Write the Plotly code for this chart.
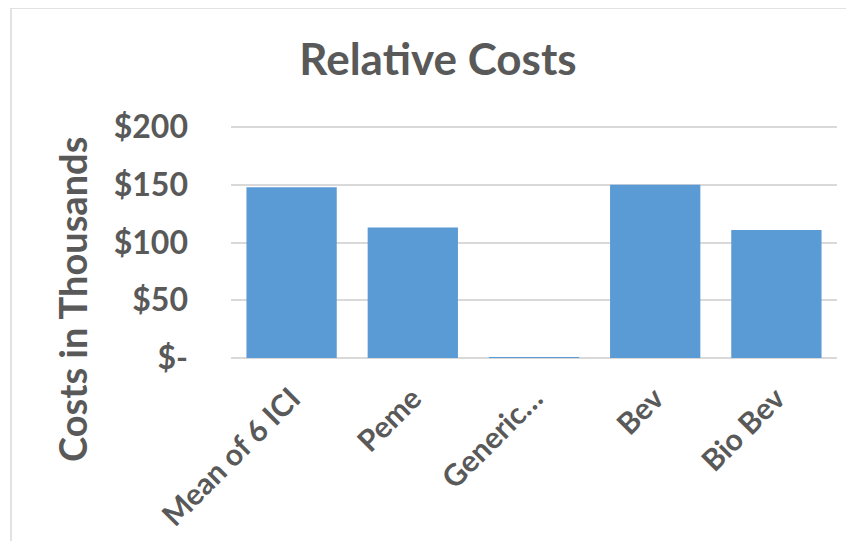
import plotly.graph_objects as go

categories = ["Mean of 6 ICI", "Peme", "Generic…", "Bev", "Bio Bev"]
costs = [148, 113, 0.15, 150, 111]
tick_vals = [0, 50, 100, 150, 200]
tick_text = ["$-", "$50", "$100", "$150", "$200"]

TXT = "#595959"
FONT = "Lato"

fig = go.Figure(go.Bar(
    x=categories, y=costs,
    marker=dict(color="#5B9BD5", line=dict(width=0)),
))

# the page body adds an 8px offset; work in page pixels and shift
OFF = 8
W, H = 854, 541
L, R, T, B = 231 - OFF, 17 + OFF, 126 - OFF, 183 + OFF
pw = W - L - R
ph = H - T - B

def px_x(p):
    return (p - OFF - L) / pw

def px_y(p):
    return (H - B - (p - OFF)) / ph

fig.update_layout(
    width=W, height=H,
    margin=dict(l=L, r=R, t=T, b=B, autoexpand=False),
    paper_bgcolor="white", plot_bgcolor="white",
    showlegend=False,
    bargap=0.255,
    title=dict(text="<b>Relative Costs</b>", x=(438 - OFF) / W, xanchor="center",
               y=1 - (60 - OFF) / H, yanchor="middle",
               font=dict(family=FONT, size=44, color=TXT)),
    xaxis=dict(tickangle=-45, ticklabelstandoff=16,
               tickfont=dict(family=FONT, size=30, color=TXT, weight="bold"),
               showgrid=False, showline=False, ticks="", zeroline=False),
    yaxis=dict(range=[0, 201], tickvals=tick_vals, ticktext=tick_text,
               tickfont=dict(family=FONT, size=32, color=TXT, weight="bold"),
               showgrid=True, gridcolor="#D9D9D9", gridwidth=1.5,
               zeroline=True, zerolinecolor="#D9D9D9", zerolinewidth=2,
               ticklabelstandoff=42, showline=False, ticks=""),
    shapes=[dict(type="rect", xref="paper", yref="paper",
                 x0=px_x(11), x1=px_x(880), y0=px_y(580), y1=px_y(8),
                 line=dict(color="#D9D9D9", width=1.5), fillcolor="rgba(0,0,0,0)",
                 layer="below")],
    annotations=[dict(text="<b>Costs in Thousands</b>", textangle=-90,
                      xref="paper", yref="paper", x=px_x(72), y=px_y(300),
                      xanchor="center", yanchor="middle", showarrow=False,
                      font=dict(family=FONT, size=38, color=TXT))],
)
fig.write_html("out.html")
